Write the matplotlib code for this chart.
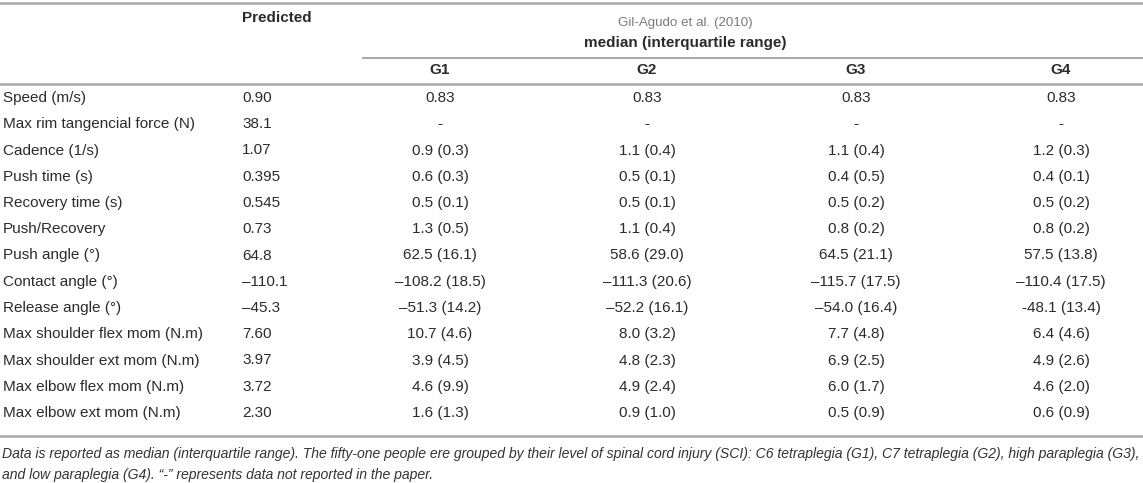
import matplotlib.pyplot as plt
from matplotlib.lines import Line2D

plt.rcParams['font.family'] = ['Liberation Sans', 'DejaVu Sans']

W, H = 1143, 483

row_labels = [
    "Speed (m/s)", "Max rim tangencial force (N)", "Cadence (1/s)", "Push time (s)",
    "Recovery time (s)", "Push/Recovery", "Push angle (°)", "Contact angle (°)",
    "Release angle (°)", "Max shoulder flex mom (N.m)", "Max shoulder ext mom (N.m)",
    "Max elbow flex mom (N.m)", "Max elbow ext mom (N.m)",
]
predicted = ["0.90", "38.1", "1.07", "0.395", "0.545", "0.73", "64.8", "–110.1",
             "–45.3", "7.60", "3.97", "3.72", "2.30"]
g1 = ["0.83", "-", "0.9 (0.3)", "0.6 (0.3)", "0.5 (0.1)", "1.3 (0.5)", "62.5 (16.1)",
      "–108.2 (18.5)", "–51.3 (14.2)", "10.7 (4.6)", "3.9 (4.5)", "4.6 (9.9)", "1.6 (1.3)"]
g2 = ["0.83", "-", "1.1 (0.4)", "0.5 (0.1)", "0.5 (0.1)", "1.1 (0.4)", "58.6 (29.0)",
      "–111.3 (20.6)", "–52.2 (16.1)", "8.0 (3.2)", "4.8 (2.3)", "4.9 (2.4)", "0.9 (1.0)"]
g3 = ["0.83", "-", "1.1 (0.4)", "0.4 (0.5)", "0.5 (0.2)", "0.8 (0.2)", "64.5 (21.1)",
      "–115.7 (17.5)", "–54.0 (16.4)", "7.7 (4.8)", "6.9 (2.5)", "6.0 (1.7)", "0.5 (0.9)"]
g4 = ["0.83", "-", "1.2 (0.3)", "0.4 (0.1)", "0.5 (0.2)", "0.8 (0.2)", "57.5 (13.8)",
      "–110.4 (17.5)", "-48.1 (13.4)", "6.4 (4.6)", "4.9 (2.6)", "4.6 (2.0)", "0.6 (0.9)"]
group_names = ["G1", "G2", "G3", "G4"]
footnote = [
    "Data is reported as median (interquartile range). The fifty-one people ere grouped by their level of spinal cord injury (SCI): "
    "C6 tetraplegia (G1), C7 tetraplegia (G2), high paraplegia (G3),",
    "and low paraplegia (G4). \u201c-\u201d represents data not reported in the paper.",
]

fig = plt.figure(figsize=(W / 100, H / 100), dpi=100)
fs = 11


def txt(x, y, s, **kw):
    kw.setdefault('fontsize', fs)
    kw.setdefault('color', '#2b2b2b')
    kw.setdefault('va', 'center')
    fig.text(x / W, 1 - y / H, s, **kw)


def hline(x0, x1, y, lw=1.4, color='#a8a8a8'):
    fig.add_artist(Line2D([x0 / W, x1 / W], [1 - y / H, 1 - y / H], lw=lw, color=color))


# rules
hline(0, W, 3, lw=1.8)
hline(363, W, 57.5)
hline(0, W, 84, lw=1.8)
hline(0, W, 436, lw=1.8)

# header
txt(242, 18, "Predicted", fontweight='bold')
txt(685, 23, "Gil-Agudo et al. (2010)", ha='center', color='#7a7a7a', fontsize=9.6)
txt(685, 43, "median (interquartile range)", ha='center', fontweight='bold')
col_x = [440, 647, 856, 1061]
for cx, name in zip(col_x, group_names):
    txt(cx, 70.5, name, ha='center', fontweight='bold')

# body
row_y0, row_dy = 98, 26.25
groups = [g1, g2, g3, g4]
for i, lab in enumerate(row_labels):
    y = row_y0 + i * row_dy
    txt(3, y, lab)
    txt(242, y, predicted[i])
    for cx, g in zip(col_x, groups):
        txt(cx, y, g[i], ha='center')

# footnote
txt(2, 454, footnote[0], style='italic', fontsize=10.1, color='#333333')
txt(2, 475, footnote[1], style='italic', fontsize=10.1, color='#333333')

fig.savefig("out.png", dpi=100)
